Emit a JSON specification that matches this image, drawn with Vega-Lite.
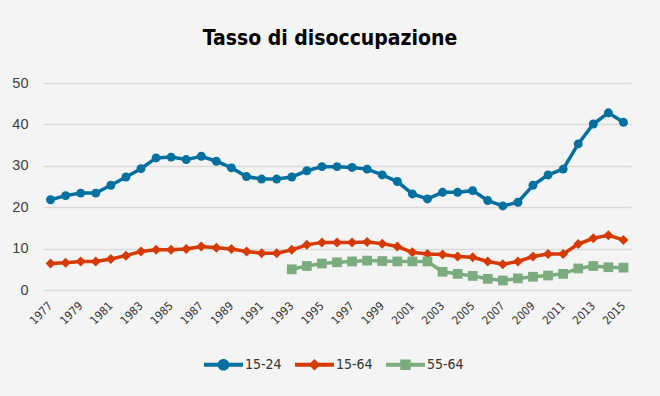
{
  "$schema": "https://vega.github.io/schema/vega-lite/v6.json",
  "width": 588,
  "height": 207,
  "autosize": {"type": "none"},
  "padding": {"left": 43, "top": 83, "right": 29, "bottom": 106},
  "background": "#f4f4f4",
  "config": {"view": {"stroke": null}},
  "title": {
    "text": "Tasso di disoccupazione",
    "font": "DejaVu Sans Condensed, Liberation Sans, sans-serif",
    "fontWeight": "bold",
    "fontSize": 21,
    "color": "#000000",
    "anchor": "middle",
    "baseline": "alphabetic",
    "offset": 9,
    "dx": -7
  },
  "data": {
    "values": [
      {"anno": 1977, "serie": "15-24", "valore": 21.8},
      {"anno": 1978, "serie": "15-24", "valore": 22.8},
      {"anno": 1979, "serie": "15-24", "valore": 23.4},
      {"anno": 1980, "serie": "15-24", "valore": 23.4},
      {"anno": 1981, "serie": "15-24", "valore": 25.3},
      {"anno": 1982, "serie": "15-24", "valore": 27.3},
      {"anno": 1983, "serie": "15-24", "valore": 29.3},
      {"anno": 1984, "serie": "15-24", "valore": 31.9},
      {"anno": 1985, "serie": "15-24", "valore": 32.1},
      {"anno": 1986, "serie": "15-24", "valore": 31.5},
      {"anno": 1987, "serie": "15-24", "valore": 32.3},
      {"anno": 1988, "serie": "15-24", "valore": 31.1},
      {"anno": 1989, "serie": "15-24", "valore": 29.5},
      {"anno": 1990, "serie": "15-24", "valore": 27.4},
      {"anno": 1991, "serie": "15-24", "valore": 26.8},
      {"anno": 1992, "serie": "15-24", "valore": 26.8},
      {"anno": 1993, "serie": "15-24", "valore": 27.3},
      {"anno": 1994, "serie": "15-24", "valore": 28.8},
      {"anno": 1995, "serie": "15-24", "valore": 29.8},
      {"anno": 1996, "serie": "15-24", "valore": 29.8},
      {"anno": 1997, "serie": "15-24", "valore": 29.6},
      {"anno": 1998, "serie": "15-24", "valore": 29.2},
      {"anno": 1999, "serie": "15-24", "valore": 27.8},
      {"anno": 2000, "serie": "15-24", "valore": 26.2},
      {"anno": 2001, "serie": "15-24", "valore": 23.2},
      {"anno": 2002, "serie": "15-24", "valore": 22.0},
      {"anno": 2003, "serie": "15-24", "valore": 23.6},
      {"anno": 2004, "serie": "15-24", "valore": 23.6},
      {"anno": 2005, "serie": "15-24", "valore": 24.0},
      {"anno": 2006, "serie": "15-24", "valore": 21.6},
      {"anno": 2007, "serie": "15-24", "valore": 20.3},
      {"anno": 2008, "serie": "15-24", "valore": 21.2},
      {"anno": 2009, "serie": "15-24", "valore": 25.3},
      {"anno": 2010, "serie": "15-24", "valore": 27.8},
      {"anno": 2011, "serie": "15-24", "valore": 29.2},
      {"anno": 2012, "serie": "15-24", "valore": 35.3},
      {"anno": 2013, "serie": "15-24", "valore": 40.1},
      {"anno": 2014, "serie": "15-24", "valore": 42.8},
      {"anno": 2015, "serie": "15-24", "valore": 40.5},
      {"anno": 1977, "serie": "15-64", "valore": 6.4},
      {"anno": 1978, "serie": "15-64", "valore": 6.6},
      {"anno": 1979, "serie": "15-64", "valore": 6.9},
      {"anno": 1980, "serie": "15-64", "valore": 6.9},
      {"anno": 1981, "serie": "15-64", "valore": 7.5},
      {"anno": 1982, "serie": "15-64", "valore": 8.3},
      {"anno": 1983, "serie": "15-64", "valore": 9.3},
      {"anno": 1984, "serie": "15-64", "valore": 9.7},
      {"anno": 1985, "serie": "15-64", "valore": 9.7},
      {"anno": 1986, "serie": "15-64", "valore": 9.9},
      {"anno": 1987, "serie": "15-64", "valore": 10.5},
      {"anno": 1988, "serie": "15-64", "valore": 10.2},
      {"anno": 1989, "serie": "15-64", "valore": 9.9},
      {"anno": 1990, "serie": "15-64", "valore": 9.3},
      {"anno": 1991, "serie": "15-64", "valore": 8.9},
      {"anno": 1992, "serie": "15-64", "valore": 8.9},
      {"anno": 1993, "serie": "15-64", "valore": 9.7},
      {"anno": 1994, "serie": "15-64", "valore": 10.9},
      {"anno": 1995, "serie": "15-64", "valore": 11.5},
      {"anno": 1996, "serie": "15-64", "valore": 11.5},
      {"anno": 1997, "serie": "15-64", "valore": 11.5},
      {"anno": 1998, "serie": "15-64", "valore": 11.6},
      {"anno": 1999, "serie": "15-64", "valore": 11.2},
      {"anno": 2000, "serie": "15-64", "valore": 10.5},
      {"anno": 2001, "serie": "15-64", "valore": 9.1},
      {"anno": 2002, "serie": "15-64", "valore": 8.7},
      {"anno": 2003, "serie": "15-64", "valore": 8.6},
      {"anno": 2004, "serie": "15-64", "valore": 8.1},
      {"anno": 2005, "serie": "15-64", "valore": 7.9},
      {"anno": 2006, "serie": "15-64", "valore": 6.9},
      {"anno": 2007, "serie": "15-64", "valore": 6.2},
      {"anno": 2008, "serie": "15-64", "valore": 6.9},
      {"anno": 2009, "serie": "15-64", "valore": 8.1},
      {"anno": 2010, "serie": "15-64", "valore": 8.7},
      {"anno": 2011, "serie": "15-64", "valore": 8.7},
      {"anno": 2012, "serie": "15-64", "valore": 11.1},
      {"anno": 2013, "serie": "15-64", "valore": 12.5},
      {"anno": 2014, "serie": "15-64", "valore": 13.2},
      {"anno": 2015, "serie": "15-64", "valore": 12.1},
      {"anno": 1993, "serie": "55-64", "valore": 5.0},
      {"anno": 1994, "serie": "55-64", "valore": 5.8},
      {"anno": 1995, "serie": "55-64", "valore": 6.4},
      {"anno": 1996, "serie": "55-64", "valore": 6.7},
      {"anno": 1997, "serie": "55-64", "valore": 6.9},
      {"anno": 1998, "serie": "55-64", "valore": 7.1},
      {"anno": 1999, "serie": "55-64", "valore": 7.0},
      {"anno": 2000, "serie": "55-64", "valore": 6.9},
      {"anno": 2001, "serie": "55-64", "valore": 6.9},
      {"anno": 2002, "serie": "55-64", "valore": 6.9},
      {"anno": 2003, "serie": "55-64", "valore": 4.4},
      {"anno": 2004, "serie": "55-64", "valore": 3.9},
      {"anno": 2005, "serie": "55-64", "valore": 3.4},
      {"anno": 2006, "serie": "55-64", "valore": 2.7},
      {"anno": 2007, "serie": "55-64", "valore": 2.3},
      {"anno": 2008, "serie": "55-64", "valore": 2.8},
      {"anno": 2009, "serie": "55-64", "valore": 3.2},
      {"anno": 2010, "serie": "55-64", "valore": 3.5},
      {"anno": 2011, "serie": "55-64", "valore": 3.9},
      {"anno": 2012, "serie": "55-64", "valore": 5.2},
      {"anno": 2013, "serie": "55-64", "valore": 5.8},
      {"anno": 2014, "serie": "55-64", "valore": 5.5},
      {"anno": 2015, "serie": "55-64", "valore": 5.4}
    ]
  },
  "encoding": {
    "x": {
      "field": "anno",
      "type": "ordinal",
      "scale": {"type": "point", "padding": 0.5},
      "axis": {
        "title": null,
        "domain": false,
        "ticks": false,
        "grid": false,
        "labelAngle": -45,
        "labelAlign": "right",
        "labelBaseline": "middle",
        "labelPadding": 14,
        "labelFont": "DejaVu Sans Condensed, Liberation Sans, sans-serif",
        "labelFontSize": 11.5,
        "labelColor": "#333333",
        "values": [1977, 1979, 1981, 1983, 1985, 1987, 1989, 1991, 1993, 1995, 1997, 1999, 2001, 2003, 2005, 2007, 2009, 2011, 2013, 2015]
      }
    },
    "y": {
      "field": "valore",
      "type": "quantitative",
      "scale": {"domain": [0, 50], "nice": false, "zero": true},
      "axis": {
        "title": null,
        "domain": false,
        "ticks": false,
        "values": [0, 10, 20, 30, 40, 50],
        "grid": true,
        "gridColor": "#d9d9d9",
        "gridWidth": 1.5,
        "labelPadding": 15,
        "labelFont": "Liberation Sans",
        "labelFontSize": 14.5,
        "labelColor": "#404040"
      }
    }
  },
  "layer": [
    {
      "mark": {"type": "point", "filled": true, "opacity": 1, "size": 0},
      "encoding": {
        "color": {
          "field": "serie",
          "type": "nominal",
          "scale": {"domain": ["15-24", "15-64", "55-64"], "range": ["#0070a0", "#d63a00", "#7aac7d"]},
          "legend": {
            "title": null,
            "orient": "none",
            "direction": "horizontal",
            "legendX": 161,
            "legendY": 262,
            "symbolSize": 1521,
            "symbolOpacity": 1,
            "symbolStrokeWidth": 0,
            "labelFont": "DejaVu Sans Condensed, Liberation Sans, sans-serif",
            "labelFontSize": 14,
            "labelColor": "#333333",
            "labelOffset": 2,
            "columnPadding": 13
          }
        },
        "shape": {
          "field": "serie",
          "type": "nominal",
          "scale": {
            "domain": ["15-24", "15-64", "55-64"],
            "range": [
              "M-1,-0.1H1V0.1H-1Z M-0.3,0A0.3,0.3 0 1,1 0.3,0A0.3,0.3 0 1,1 -0.3,0Z",
              "M-1,-0.1H1V0.1H-1Z M-0.3,0L0,-0.3L0.3,0L0,0.3Z",
              "M-1,-0.1H1V0.1H-1Z M-0.27,-0.27H0.27V0.27H-0.27Z"
            ]
          },
          "legend": {
            "title": null,
            "orient": "none",
            "direction": "horizontal",
            "legendX": 161,
            "legendY": 262,
            "symbolSize": 1521,
            "symbolOpacity": 1,
            "symbolStrokeWidth": 0,
            "labelFont": "DejaVu Sans Condensed, Liberation Sans, sans-serif",
            "labelFontSize": 14,
            "labelColor": "#333333",
            "labelOffset": 2,
            "columnPadding": 13
          }
        }
      }
    },
    {
      "mark": {"type": "line", "strokeWidth": 3.5},
      "encoding": {"color": {"field": "serie", "type": "nominal", "legend": null}}
    },
    {
      "transform": [{"filter": "datum.serie === '15-24'"}],
      "mark": {"type": "point", "shape": "circle", "filled": true, "opacity": 1, "size": 80},
      "encoding": {"color": {"field": "serie", "type": "nominal", "legend": null}}
    },
    {
      "transform": [{"filter": "datum.serie === '15-64'"}],
      "mark": {"type": "point", "shape": "diamond", "filled": true, "opacity": 1, "size": 100},
      "encoding": {"color": {"field": "serie", "type": "nominal", "legend": null}}
    },
    {
      "transform": [{"filter": "datum.serie === '55-64'"}],
      "mark": {"type": "point", "shape": "square", "filled": true, "opacity": 1, "size": 95},
      "encoding": {"color": {"field": "serie", "type": "nominal", "legend": null}}
    }
  ]
}
